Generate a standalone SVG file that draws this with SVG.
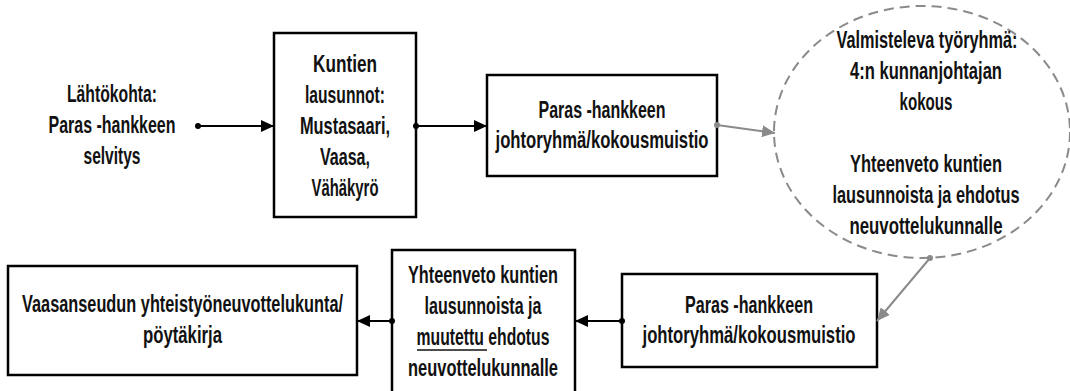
<svg xmlns="http://www.w3.org/2000/svg" width="1070" height="391" viewBox="0 0 1070 391">
<style>
.box{fill:#fff;stroke:#000;stroke-width:2.5}
.t{font-family:"Liberation Sans",Arial,sans-serif;font-weight:bold;font-size:23px;fill:#111;text-anchor:middle}
.c{fill:none;stroke:#000;stroke-width:2}
.g{fill:none;stroke:#8a8a8a;stroke-width:2}
.dot{fill:#000}
.gdot{fill:#8a8a8a}
</style>
<defs>
<marker id="ah" markerUnits="userSpaceOnUse" markerWidth="14" markerHeight="12" refX="13" refY="6" orient="auto"><path d="M0,0 L13,6 L0,12 Z" fill="#000"/></marker>
<marker id="gh" markerUnits="userSpaceOnUse" markerWidth="14" markerHeight="12" refX="13" refY="6" orient="auto"><path d="M0,0 L13,6 L0,12 Z" fill="#8a8a8a"/></marker>
</defs>
<g id="start">
<text class="t" x="112" y="102" textLength="90" lengthAdjust="spacingAndGlyphs">Lähtökohta:</text>
<text class="t" x="112" y="133" textLength="127" lengthAdjust="spacingAndGlyphs">Paras -hankkeen</text>
<text class="t" x="112" y="164" textLength="57" lengthAdjust="spacingAndGlyphs">selvitys</text>
</g>
<g id="lausunnot">
<rect class="box" x="274" y="33" width="142" height="184"/>
<text class="t" x="345" y="72" textLength="64" lengthAdjust="spacingAndGlyphs">Kuntien</text>
<text class="t" x="345" y="103" textLength="80" lengthAdjust="spacingAndGlyphs">lausunnot:</text>
<text class="t" x="345" y="134" textLength="90" lengthAdjust="spacingAndGlyphs">Mustasaari,</text>
<text class="t" x="345" y="165" textLength="50" lengthAdjust="spacingAndGlyphs">Vaasa,</text>
<text class="t" x="345" y="196" textLength="67" lengthAdjust="spacingAndGlyphs">Vähäkyrö</text>
</g>
<g id="johtoryhma1">
<rect class="box" x="487" y="75" width="230" height="101"/>
<text class="t" x="602" y="118" textLength="127" lengthAdjust="spacingAndGlyphs">Paras -hankkeen</text>
<text class="t" x="602" y="148" textLength="213" lengthAdjust="spacingAndGlyphs">johtoryhmä/kokousmuistio</text>
</g>
<g id="tyoryhma">
<ellipse cx="922" cy="132" rx="148" ry="126" fill="none" stroke="#8a8a8a" stroke-width="2" stroke-dasharray="10,6"/>
<text class="t" x="927" y="48" textLength="181" lengthAdjust="spacingAndGlyphs">Valmisteleva työryhmä:</text>
<text class="t" x="926" y="79" textLength="152" lengthAdjust="spacingAndGlyphs">4:n kunnanjohtajan</text>
<text class="t" x="926" y="110" textLength="53" lengthAdjust="spacingAndGlyphs">kokous</text>
<text class="t" x="926" y="172" textLength="152" lengthAdjust="spacingAndGlyphs">Yhteenveto kuntien</text>
<text class="t" x="926" y="203" textLength="187" lengthAdjust="spacingAndGlyphs">lausunnoista ja ehdotus</text>
<text class="t" x="926" y="234" textLength="153" lengthAdjust="spacingAndGlyphs">neuvottelukunnalle</text>
</g>
<g id="johtoryhma2">
<rect class="box" x="622" y="274" width="255" height="93"/>
<text class="t" x="749" y="313" textLength="128" lengthAdjust="spacingAndGlyphs">Paras -hankkeen</text>
<text class="t" x="749" y="343" textLength="213" lengthAdjust="spacingAndGlyphs">johtoryhmä/kokousmuistio</text>
</g>
<g id="yhteenveto">
<rect class="box" x="392" y="250" width="183" height="145"/>
<text class="t" x="483" y="283" textLength="150" lengthAdjust="spacingAndGlyphs">Yhteenveto kuntien</text>
<text class="t" x="483" y="314" textLength="117" lengthAdjust="spacingAndGlyphs">lausunnoista ja</text>
<text class="t" x="483" y="345" textLength="133" lengthAdjust="spacingAndGlyphs">muutettu ehdotus</text>
<line x1="417" y1="350" x2="487" y2="350" stroke="#111" stroke-width="1.5"/>
<text class="t" x="483" y="376" textLength="150" lengthAdjust="spacingAndGlyphs">neuvottelukunnalle</text>
</g>
<g id="neuvottelukunta">
<rect class="box" x="8" y="266" width="349" height="109"/>
<text class="t" x="182.5" y="312" textLength="321" lengthAdjust="spacingAndGlyphs">Vaasanseudun yhteistyöneuvottelukunta/</text>
<text class="t" x="182.5" y="343" textLength="79" lengthAdjust="spacingAndGlyphs">pöytäkirja</text>
</g>
<g id="connectors">
<path class="c" d="M198,126 L274,126" marker-end="url(#ah)"/>
<circle class="dot" cx="198" cy="126" r="3"/>
<path class="c" d="M416,126 L487,126" marker-end="url(#ah)"/>
<circle class="dot" cx="416" cy="126" r="3"/>
<path class="g" d="M717,125 L775,133" marker-end="url(#gh)"/>
<circle class="gdot" cx="717" cy="125" r="3"/>
<path class="g" d="M930,258 L877,321" marker-end="url(#gh)"/>
<circle class="gdot" cx="930" cy="258" r="3"/>
<path class="c" d="M622,321 L575,321" marker-end="url(#ah)"/>
<circle class="dot" cx="622" cy="321" r="3"/>
<path class="c" d="M392,321 L357,321" marker-end="url(#ah)"/>
<circle class="dot" cx="392" cy="321" r="3"/>
</g>
</svg>
